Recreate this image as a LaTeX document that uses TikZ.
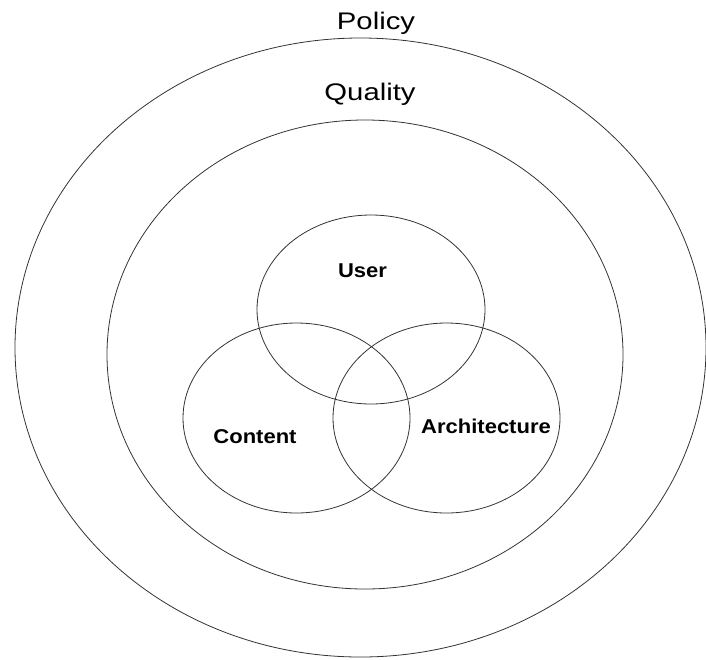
\documentclass[tikz,border=0pt]{standalone}
\usepackage{fontspec}
\setmainfont{Liberation Sans}
\usepackage{tikz}
\usetikzlibrary{shapes.geometric}

\begin{document}
\begin{tikzpicture}[x=1pt,y=-1pt,inner sep=0pt,
  ring/.style={ellipse,draw=black!80,line width=0.8pt},
  outerlabel/.style={anchor=base,transform shape,xscale=1.22,font=\fontsize{24}{28}\selectfont},
  innerlabel/.style={anchor=base,transform shape,xscale=1.1,font=\fontsize{20}{24}\selectfont\bfseries}]
\useasboundingbox (0,0) rectangle (706,659);
%Ellipses
\node at (360.5,347.5) [ring,minimum width=691pt,minimum height=619pt] (Policy) {};
\node at (365,354.5) [ring,minimum width=516pt,minimum height=469pt] (Quality) {};
\node at (371,309.5) [ring,minimum width=228pt,minimum height=189pt] (User) {};
\node at (296.5,418) [ring,minimum width=227pt,minimum height=190pt] (Content) {};
\node at (446.5,418) [ring,minimum width=227pt,minimum height=190pt] (Architecture) {};

%Labels
\node at (376,29) [outerlabel] (PolicyText) {Policy};
\node at (370,100) [outerlabel] (QualityText) {Quality};
\node at (362.5,277) [innerlabel] (UserText) {User};
\node at (255,443) [innerlabel] (ContentText) {Content};
\node at (486,433) [innerlabel] (ArchitectureText) {Architecture};
\end{tikzpicture}
\end{document}
